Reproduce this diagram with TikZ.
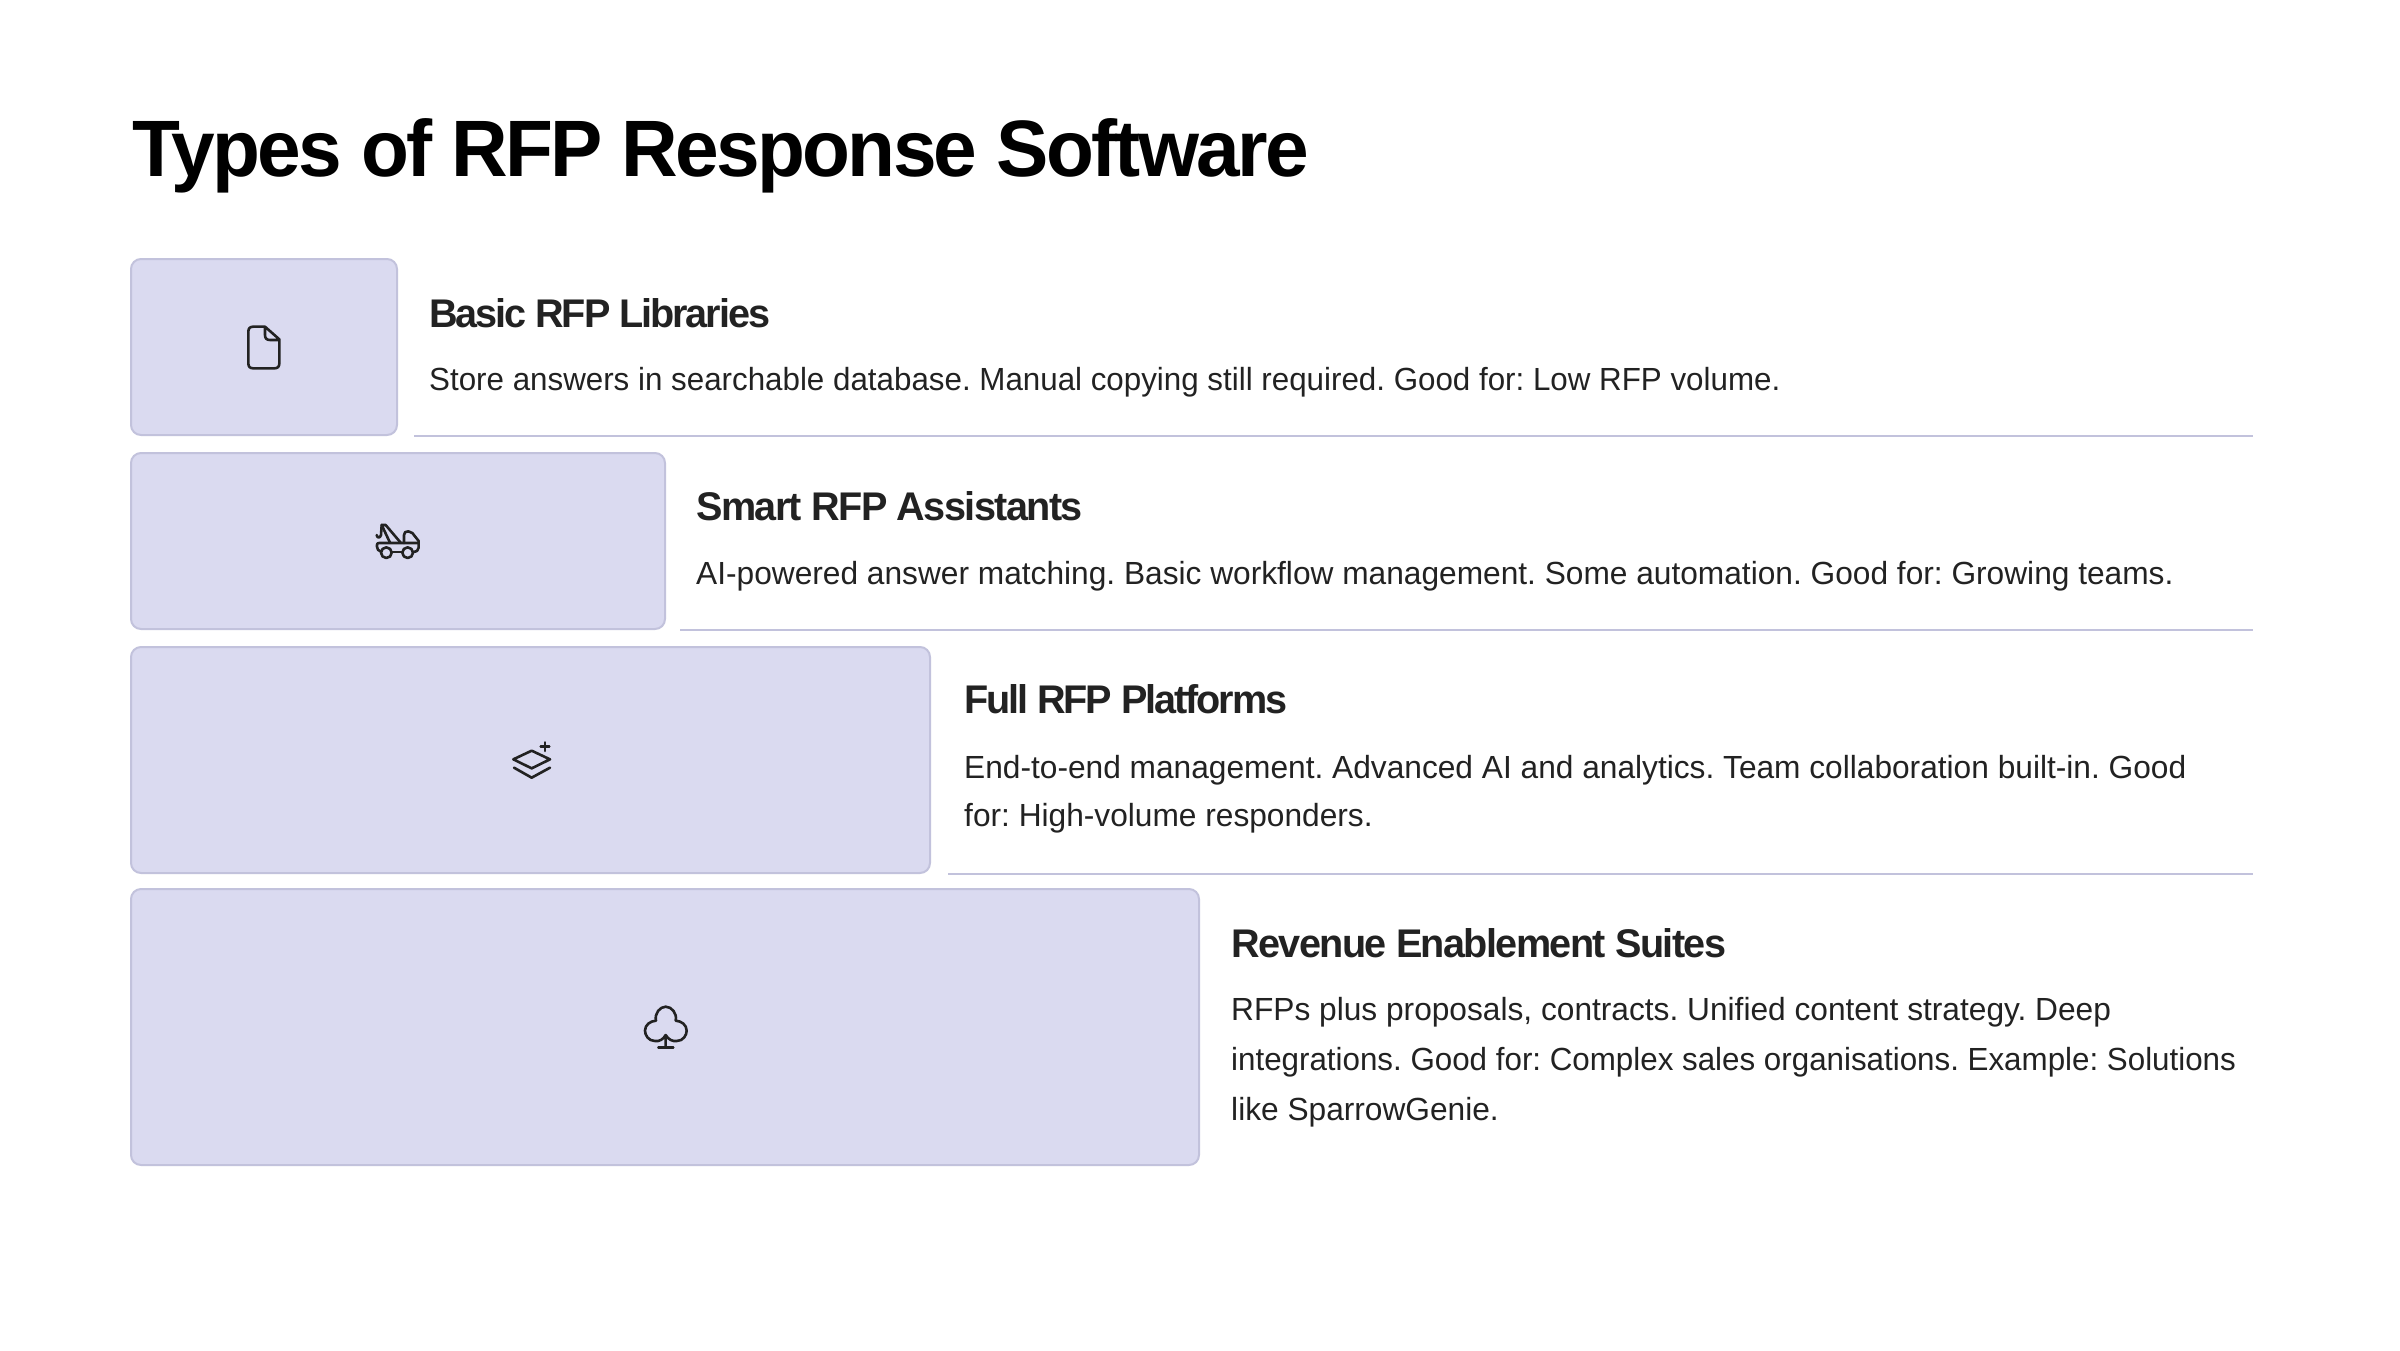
\documentclass[tikz,border=0pt]{standalone}
\usepackage{fontspec}
\setmainfont{Liberation Sans}
\newfontfamily\titlefont[FakeStretch=0.98,LetterSpace=-3.4]{Liberation Sans Bold}
\newfontfamily\headfont[FakeStretch=0.99,LetterSpace=-4]{Liberation Sans Bold}
\newfontfamily\headfontn[FakeStretch=0.99,LetterSpace=-5.2]{Liberation Sans Bold}
\newfontfamily\bodyfont[FakeStretch=0.99]{Liberation Sans}
\newfontfamily\bodyfontn[FakeStretch=0.979]{Liberation Sans}
\definecolor{boxfill}{HTML}{DADAF0}
\definecolor{boxedge}{HTML}{C2C2DC}
\definecolor{inkcol}{HTML}{222222}
\tikzset{
  tierbox/.style={draw=boxedge,fill=boxfill,line width=2pt,rounded corners=10pt},
  sepline/.style={draw=boxedge,line width=2pt},
  titletext/.style={anchor=base west,inner sep=0pt,text=black,font=\frenchspacing\titlefont\fontsize{80}{96}\selectfont},
  headtext/.style={anchor=base west,inner sep=0pt,text=inkcol,font=\frenchspacing\headfont\fontsize{40}{48}\selectfont},
  headtextn/.style={anchor=base west,inner sep=0pt,text=inkcol,font=\frenchspacing\headfontn\fontsize{40}{48}\selectfont},
  bodytext/.style={anchor=base west,inner sep=0pt,text=inkcol,align=left,font=\frenchspacing\bodyfont\fontsize{32}{50}\selectfont},
  bodytextn/.style={anchor=base west,inner sep=0pt,text=inkcol,align=left,font=\frenchspacing\bodyfontn\fontsize{32}{50}\selectfont},
  iconline/.style={draw=inkcol,line width=2.6pt,line cap=round,line join=round},
}
\begin{document}
\begin{tikzpicture}[x=1pt,y=-1pt]
\useasboundingbox (0,0) rectangle (2400,1350);
\fill[white] (0,0) rectangle (2400,1350);
\node[titletext] (title) at (132,176.5) {Types of RFP Response Software};

\draw[tierbox] (131,259) rectangle (397,435);
\draw[tierbox] (131,453) rectangle (665,629);
\draw[tierbox] (131,647) rectangle (930,873);
\draw[tierbox] (131,889) rectangle (1199,1165);

\coordinate (la) at (414,436); \coordinate (lb) at (2253,436);
\coordinate (lc) at (680,630); \coordinate (ld) at (2253,630);
\coordinate (le) at (948,874); \coordinate (lf) at (2253,874);
\draw[sepline] (la) -- (lb);
\draw[sepline] (lc) -- (ld);
\draw[sepline] (le) -- (lf);

\node[headtextn] (h1) at (429,327.5) {Basic RFP Libraries};
\node[bodytextn] (b1) at (429,390.5) {Store answers in searchable database. Manual copying still required. Good for: Low RFP volume.};
\node[headtext] (h2) at (696,520) {Smart RFP Assistants};
\node[bodytext] (b2) at (696,584) {AI-powered answer matching. Basic workflow management. Some automation. Good for: Growing teams.};
\node[headtextn] (h3) at (964,713.5) {Full RFP Platforms};
\node[bodytext] (b3) at (964,778) {End-to-end management. Advanced AI and analytics. Team collaboration built-in. Good};
\node[bodytext] (b3b) at (964,826) {for: High-volume responders.};
\node[headtext] (h4) at (1231,957) {Revenue Enablement Suites};
\node[bodytext] (b4) at (1231,1020) {RFPs plus proposals, contracts. Unified content strategy. Deep};
\node[bodytextn] (b4b) at (1231,1070) {integrations. Good for: Complex sales organisations. Example: Solutions};
\node[bodytext] (b4c) at (1231,1120) {like SparrowGenie.};

% file icon
\begin{scope}[shift={(220,300)},scale=1/3]
\draw[iconline] (135,80) -- (100,80) .. controls (90,80) and (85,85) .. (85,95) -- (85,190) .. controls (85,200) and (90,205) .. (100,205) -- (163,205) .. controls (173,205) and (178,200) .. (178,190) -- (178,118) -- (135,80) -- (135,105) .. controls (135,115) and (140,120) .. (150,120) -- (178,120);
\end{scope}
% tow truck
\begin{scope}[shift={(355,505)},scale=1/3]
\draw[iconline] (78,140) .. controls (70,138) and (66,132) .. (66,125) -- (66,120) .. controls (66,116) and (68,114) .. (72,114) -- (190,114);
\draw[iconline] (110,141) -- (142,141);
\draw[iconline] (174,141) .. controls (185,140) and (191,136) .. (191,128) -- (191,108) -- (172,84) .. controls (168,80) and (165,79) .. (160,79) .. controls (152,79) and (147,82) .. (147,90) -- (147,114);
\draw[iconline] (94,143) circle (16);
\draw[iconline] (158,143) circle (16);
\draw[iconline] (137,113) -- (92,60) -- (80,60) -- (105,113);
\draw[iconline] (80,60) -- (78,90) .. controls (76,100) and (66,100) .. (65,90);
\end{scope}
% layers plus
\begin{scope}[shift={(490,725)},scale=1/3]
\draw[iconline] (125,77) -- (180,103) -- (125,130) -- (70,103) -- cycle;
\draw[iconline] (72,128) -- (125,158) -- (180,128);
\draw[iconline] (165,52) -- (165,78);
\draw[iconline] (152,65) -- (178,65);
\end{scope}
% club
\begin{scope}[shift={(625,990)},scale=1/3]
\draw[iconline] (122,135) .. controls (115,148) and (103,155) .. (90,153) .. controls (70,153) and (60,135) .. (60,122) .. controls (60,105) and (75,93) .. (93,92) .. controls (88,70) and (105,50) .. (122,50) .. controls (140,50) and (157,70) .. (152,92) .. controls (170,93) and (185,105) .. (185,122) .. controls (185,135) and (175,153) .. (155,153) .. controls (142,155) and (130,148) .. (122,135) -- (122,173);
\draw[iconline] (100,173) -- (145,173);
\end{scope}
\end{tikzpicture}
\end{document}
